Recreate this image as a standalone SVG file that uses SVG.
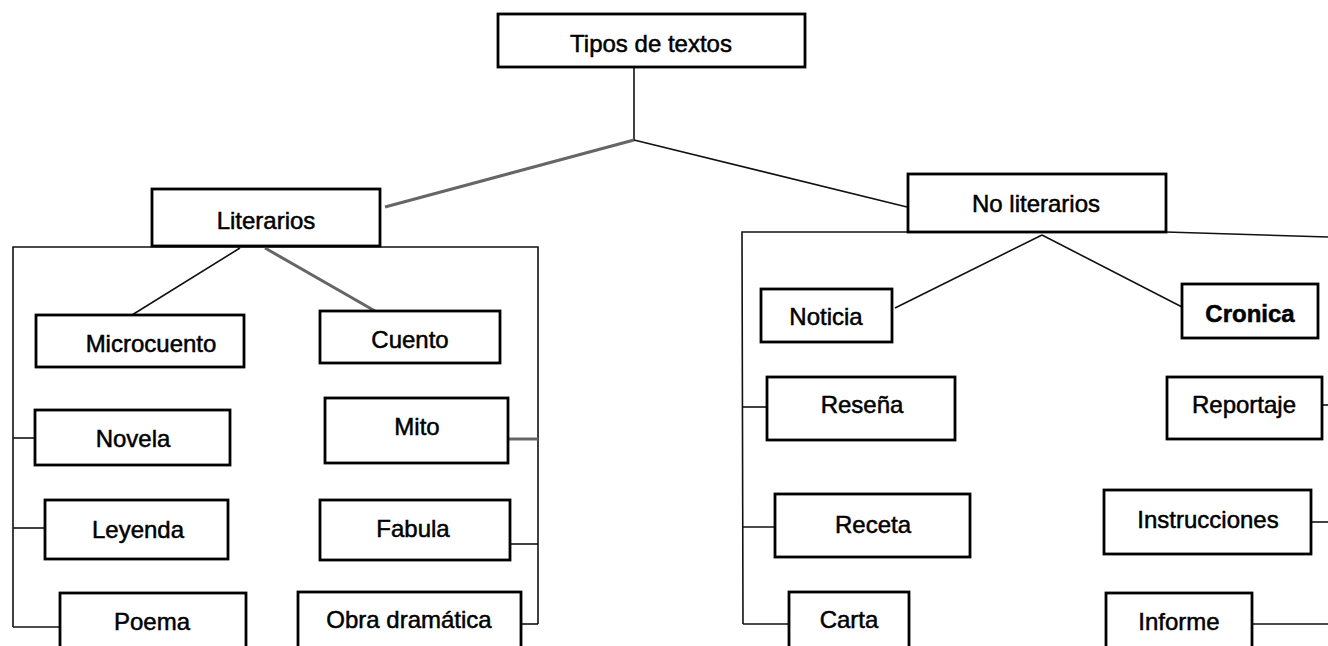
<svg xmlns="http://www.w3.org/2000/svg" width="1328" height="646" viewBox="0 0 1328 646">
<style>
.box{fill:#fff;stroke:#000;stroke-width:2.8}
.t{font-family:"Liberation Sans",Arial,sans-serif;font-size:24px;fill:#000;stroke:#000;stroke-width:0.5;text-anchor:middle}
.c{fill:none;stroke:#111;stroke-width:1.6}
.g{fill:none;stroke:#666;stroke-width:3}
</style>
<rect width="1328" height="646" fill="#fff"/>
<g id="connectors">
<line class="c" x1="634" y1="67" x2="634" y2="140" stroke-width="2"/>
<line class="g" x1="634" y1="140" x2="385" y2="207"/>
<line class="c" x1="634" y1="140" x2="907" y2="207"/>
<polyline class="c" points="13,627 13,247 538,247 538,624" stroke-width="1.8"/>
<line class="c" x1="240" y1="248" x2="132" y2="315"/>
<line class="g" x1="265" y1="248" x2="375" y2="311"/>
<line class="c" x1="13" y1="438" x2="35" y2="438"/>
<line class="c" x1="13" y1="528" x2="45" y2="528"/>
<line class="c" x1="13" y1="627" x2="60" y2="627"/>
<line class="g" x1="508" y1="439" x2="538" y2="439" stroke-width="2"/>
<line class="c" x1="510" y1="544" x2="538" y2="544"/>
<line class="c" x1="521" y1="624" x2="538" y2="624"/>
<polyline class="c" points="743,624 742,232 1166,232 1328,237" stroke-width="1.8"/>
<line class="c" x1="1042" y1="235" x2="895" y2="308"/>
<line class="c" x1="1042" y1="235" x2="1182" y2="307" stroke="#333"/>
<line class="c" x1="742" y1="407" x2="767" y2="407" stroke-width="2.5"/>
<line class="c" x1="742" y1="527" x2="775" y2="527"/>
<line class="c" x1="743" y1="624" x2="789" y2="624"/>
<line class="c" x1="1322" y1="405" x2="1328" y2="405"/>
<line class="c" x1="1311" y1="522" x2="1328" y2="522"/>
<line class="c" x1="1252" y1="624" x2="1328" y2="624"/>
</g>
<g id="tipos"><rect class="box" x="498" y="14" width="307" height="53"/><text class="t" x="651" y="52">Tipos de textos</text></g>
<g id="literarios"><rect class="box" x="152" y="189" width="228" height="57"/><text class="t" x="266" y="229" font-size="28">Literarios</text></g>
<g id="noliterarios"><rect class="box" x="908" y="174" width="258" height="58"/><text class="t" x="1036" y="212" font-size="27">No literarios</text></g>
<g id="microcuento"><rect class="box" x="36" y="315" width="208" height="52"/><text class="t" x="151" y="352" font-size="26">Microcuento</text></g>
<g id="cuento"><rect class="box" x="320" y="311" width="180" height="52"/><text class="t" x="410" y="348" font-size="26">Cuento</text></g>
<g id="novela"><rect class="box" x="35" y="410" width="195" height="55"/><text class="t" x="133" y="447">Novela</text></g>
<g id="leyenda"><rect class="box" x="45" y="500" width="183" height="59"/><text class="t" x="138" y="538">Leyenda</text></g>
<g id="poema"><rect class="box" x="60" y="593" width="186" height="62"/><text class="t" x="152" y="630">Poema</text></g>
<g id="mito"><rect class="box" x="325" y="398" width="183" height="65"/><text class="t" x="417" y="435" font-size="26">Mito</text></g>
<g id="fabula"><rect class="box" x="320" y="500" width="190" height="60"/><text class="t" x="413" y="537">Fabula</text></g>
<g id="obra"><rect class="box" x="298" y="592" width="223" height="62"/><text class="t" x="409" y="628">Obra dramática</text></g>
<g id="noticia"><rect class="box" x="761" y="289" width="131" height="53"/><text class="t" x="826" y="325">Noticia</text></g>
<g id="cronica"><rect class="box" x="1182" y="284" width="136" height="54" stroke="#222"/><text class="t" x="1250" y="322" font-size="20" font-weight="bold">Cronica</text></g>
<g id="resena"><rect class="box" x="767" y="377" width="188" height="63"/><text class="t" x="862" y="413">Reseña</text></g>
<g id="reportaje"><rect class="box" x="1167" y="377" width="155" height="62"/><text class="t" x="1244" y="413">Reportaje</text></g>
<g id="receta"><rect class="box" x="775" y="494" width="195" height="63"/><text class="t" x="873" y="533" font-size="25">Receta</text></g>
<g id="instrucciones"><rect class="box" x="1104" y="490" width="207" height="64"/><text class="t" x="1208" y="528" font-size="27">Instrucciones</text></g>
<g id="carta"><rect class="box" x="789" y="592" width="120" height="62"/><text class="t" x="849" y="628">Carta</text></g>
<g id="informe"><rect class="box" x="1106" y="593" width="146" height="62"/><text class="t" x="1179" y="630" font-size="25">Informe</text></g>
</svg>
